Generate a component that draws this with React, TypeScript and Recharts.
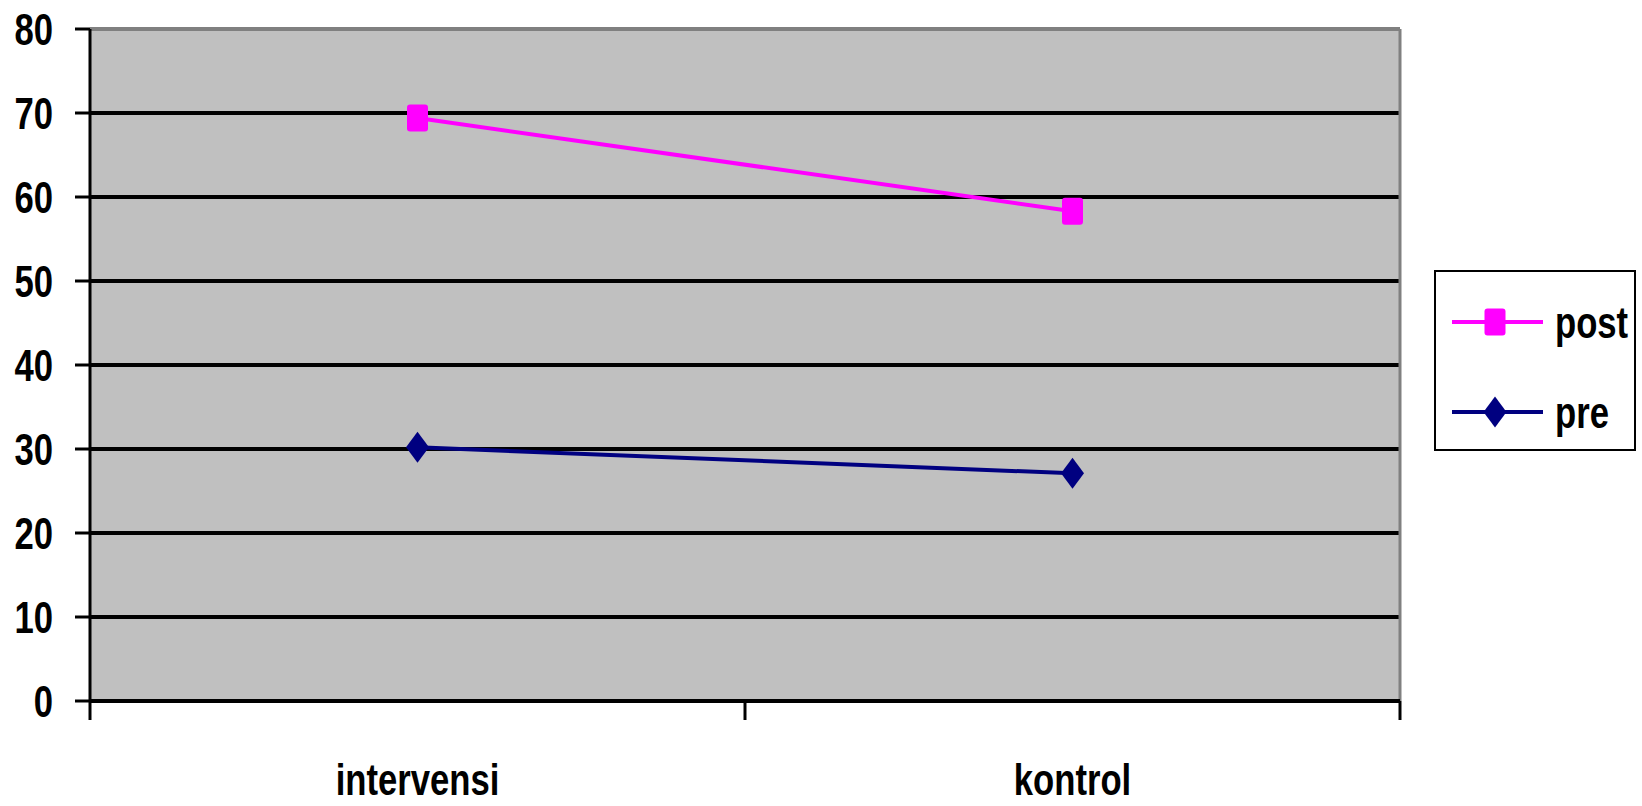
import { LineChart, Line, XAxis, YAxis, CartesianGrid, ReferenceLine } from "recharts";

const categories = ["intervensi", "kontrol"];
const postValues = [69.4, 58.3];
const preValues = [30.2, 27.1];
const yTicks = [0, 10, 20, 30, 40, 50, 60, 70, 80];
const xTicks = [0, 0.5, 1, 1.5, 2];

const series = [
  { key: "post", name: "post", color: "#FF00FF", shape: "square" },
  { key: "pre", name: "pre", color: "#000080", shape: "diamond" },
];

const data = categories.map((c, i) => ({
  x: i + 0.5,
  name: c,
  post: postValues[i],
  pre: preValues[i],
}));

const FONT = "'Liberation Sans', Arial, sans-serif";

// bold text squeezed horizontally, to look like the narrow font of the original
const NarrowText = ({ x, y, anchor = "start", dy = 0, children }: any) => (
  <text
    transform={`translate(${x},${y}) scale(0.77,1)`}
    dy={dy}
    textAnchor={anchor}
    fontFamily={FONT}
    fontWeight="bold"
    fontSize={45}
    fill="#000"
  >
    {children}
  </text>
);

const Marker = ({ cx, cy, shape, color }: any) => {
  if (cx == null || cy == null) return null;
  if (shape === "square") {
    return <rect x={cx - 10.5} y={cy - 13.5} width={21} height={27} rx={3} fill={color} />;
  }
  return (
    <polygon
      points={`${cx},${cy - 15.5} ${cx + 11.5},${cy} ${cx},${cy + 15.5} ${cx - 11.5},${cy}`}
      fill={color}
    />
  );
};

const XTick = (props: any) => {
  const { x, y, payload } = props;
  const v = payload.value;
  if (Number.isInteger(v)) {
    return <line x1={x} y1={y} x2={x} y2={y + 19} stroke="#000" strokeWidth={3} />;
  }
  return (
    <NarrowText x={x} y={y + 94} anchor="middle">
      {categories[Math.floor(v)]}
    </NarrowText>
  );
};

const YTick = (props: any) => {
  const { x, y, payload } = props;
  return (
    <NarrowText x={x} y={y} anchor="end" dy="0.36em">
      {payload.value}
    </NarrowText>
  );
};

const LegendBox = () => (
  <div
    style={{
      position: "absolute",
      left: 1434,
      top: 270,
      width: 198,
      height: 177,
      border: "2px solid #000",
      background: "#fff",
    }}
  >
    <svg width={198} height={177}>
      {series.map((s, i) => {
        const cy = 50 + i * 90;
        return (
          <g key={s.key}>
            <line x1={16} y1={cy} x2={107} y2={cy} stroke={s.color} strokeWidth={4} />
            <Marker cx={59} cy={cy} shape={s.shape} color={s.color} />
            <NarrowText x={119} y={cy} dy="0.36em">
              {s.name}
            </NarrowText>
          </g>
        );
      })}
    </svg>
  </div>
);

export default function App() {
  return (
    <div style={{ position: "absolute", left: 0, top: 0, width: 1642, height: 806, background: "#fff" }}>
      <LineChart width={1642} height={806} data={data} margin={{ top: 29, right: 242, bottom: 0, left: 0 }}>
        <CartesianGrid vertical={false} stroke="#000" strokeWidth={4} fill="#C0C0C0" fillOpacity={1} />
        <ReferenceLine y={80} stroke="#808080" strokeWidth={4} />
        <ReferenceLine x={2} stroke="#808080" strokeWidth={3} />
        <XAxis
          dataKey="x"
          type="number"
          domain={[0, 2]}
          ticks={xTicks}
          interval={0}
          height={105}
          tickLine={false}
          tickSize={0}
          tickMargin={0}
          axisLine={{ stroke: "#000", strokeWidth: 4 }}
          tick={<XTick />}
        />
        <YAxis
          domain={[0, 80]}
          ticks={yTicks}
          interval={0}
          width={90}
          tickSize={15}
          tickMargin={22}
          axisLine={{ stroke: "#000", strokeWidth: 3 }}
          tickLine={{ stroke: "#000", strokeWidth: 3 }}
          tick={<YTick />}
        />
        {series.map((s) => (
          <Line
            key={s.key}
            dataKey={s.key}
            name={s.name}
            type="linear"
            stroke={s.color}
            strokeWidth={4}
            isAnimationActive={false}
            dot={(p: any) => <Marker key={`${s.key}-${p.index}`} cx={p.cx} cy={p.cy} shape={s.shape} color={s.color} />}
            activeDot={false}
          />
        ))}
      </LineChart>
      <LegendBox />
    </div>
  );
}
